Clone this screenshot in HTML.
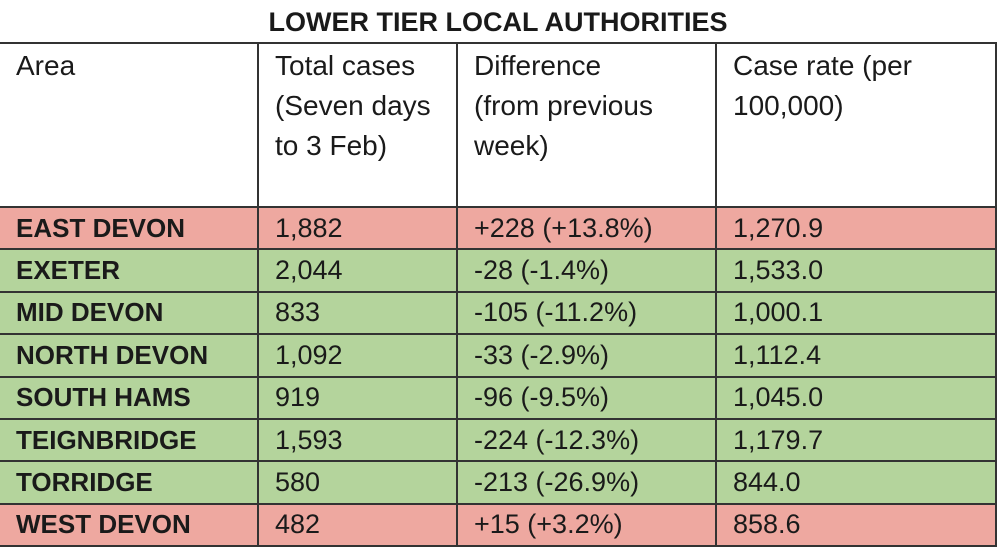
<!DOCTYPE html>
<html><head><meta charset="utf-8"><style>
html,body{margin:0;padding:0;background:#fff;width:998px;height:550px;overflow:hidden;font-family:"Liberation Sans",sans-serif;color:#1a1a1a}
.title{position:absolute;left:0;top:0;width:996px;height:42px;text-align:center;font-weight:bold;font-size:27px;line-height:44px;border-bottom:2px solid #333}
table{position:absolute;left:0;top:42px;border-collapse:collapse;table-layout:fixed;width:996px}
td{border:2px solid #333;padding:0 0 0 16px;font-size:27px;vertical-align:middle;height:40.4px;white-space:nowrap}
td:first-child{border-left:none}
tr.h td{height:160px;vertical-align:top;line-height:40px;padding-top:2px;font-size:28px}
tr.r td{background:#eea8a0}
tr.g td{background:#b4d49c}
td.a{font-weight:bold;font-size:26px}
</style></head><body>
<div class="title">LOWER TIER LOCAL AUTHORITIES</div>
<table>
<colgroup><col style="width:258px"><col style="width:199px"><col style="width:259px"><col style="width:280px"></colgroup>
<tr class="h"><td>Area</td><td>Total cases<br>(Seven days<br>to 3 Feb)</td><td>Difference<br>(from previous<br>week)</td><td>Case rate (per<br>100,000)</td></tr>
<tr class="r"><td class="a">EAST DEVON</td><td>1,882</td><td>+228 (+13.8%)</td><td>1,270.9</td></tr>
<tr class="g"><td class="a">EXETER</td><td>2,044</td><td>-28 (-1.4%)</td><td>1,533.0</td></tr>
<tr class="g"><td class="a">MID DEVON</td><td>833</td><td>-105 (-11.2%)</td><td>1,000.1</td></tr>
<tr class="g"><td class="a">NORTH DEVON</td><td>1,092</td><td>-33 (-2.9%)</td><td>1,112.4</td></tr>
<tr class="g"><td class="a">SOUTH HAMS</td><td>919</td><td>-96 (-9.5%)</td><td>1,045.0</td></tr>
<tr class="g"><td class="a">TEIGNBRIDGE</td><td>1,593</td><td>-224 (-12.3%)</td><td>1,179.7</td></tr>
<tr class="g"><td class="a">TORRIDGE</td><td>580</td><td>-213 (-26.9%)</td><td>844.0</td></tr>
<tr class="r"><td class="a">WEST DEVON</td><td>482</td><td>+15 (+3.2%)</td><td>858.6</td></tr>
</table>
</body></html>
